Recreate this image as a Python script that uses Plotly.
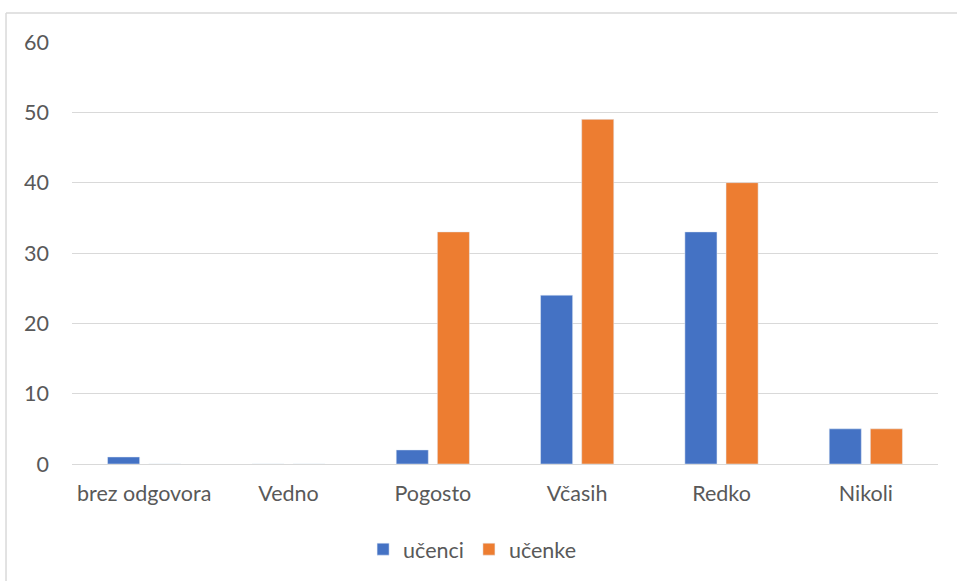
import plotly.graph_objects as go

categories = ["brez odgovora", "Vedno", "Pogosto", "Včasih", "Redko", "Nikoli"]
ucenci = [1, 0, 2, 24, 33, 5]
ucenke = [0, 0, 33, 49, 40, 5]
y_ticks = [0, 10, 20, 30, 40, 50, 60]

font_family = "Lato, Carlito, Calibri, sans-serif"
text_color = "#595959"
fs = 21.5

fig = go.Figure()
fig.add_trace(go.Bar(name="učenci", x=categories, y=ucenci, marker_color="#4472C4"))
fig.add_trace(go.Bar(name="učenke", x=categories, y=ucenke, marker_color="#ED7D31"))

fig.update_layout(
    width=957,
    height=581,
    margin=dict(l=72, r=19, t=42, b=116),
    paper_bgcolor="white",
    plot_bgcolor="white",
    barmode="group",
    bargap=0.43,
    bargroupgap=0.22,
    font=dict(family=font_family, size=fs, color=text_color),
    showlegend=True,
    legend=dict(
        orientation="h",
        x=0.462,
        xanchor="center",
        y=-0.199,
        yanchor="middle",
        font=dict(size=fs, color=text_color),
        itemwidth=30,
        traceorder="normal",
    ),
    xaxis=dict(
        showgrid=False,
        showline=False,
        ticks="",
        tickfont=dict(size=fs, color=text_color),
        ticklabelstandoff=14,
    ),
    yaxis=dict(
        range=[0, 60],
        tickvals=y_ticks,
        showgrid=True,
        gridcolor="#d9d9d9",
        gridwidth=1.3,
        zeroline=True,
        zerolinecolor="#d9d9d9",
        zerolinewidth=1.3,
        showline=False,
        ticks="",
        tickfont=dict(size=fs, color=text_color),
        ticklabelstandoff=22,
    ),
    shapes=[
        dict(type="line", xref="paper", yref="paper", x0=-0.0762, x1=-0.0762,
             y0=-0.4, y1=1.0686, line=dict(color="#d9d9d9", width=1.5)),
        dict(type="line", xref="paper", yref="paper", x0=-0.0762, x1=1.1,
             y0=1.0686, y1=1.0686, line=dict(color="#d9d9d9", width=1.5)),
    ],
)

fig.write_html("out.html")
